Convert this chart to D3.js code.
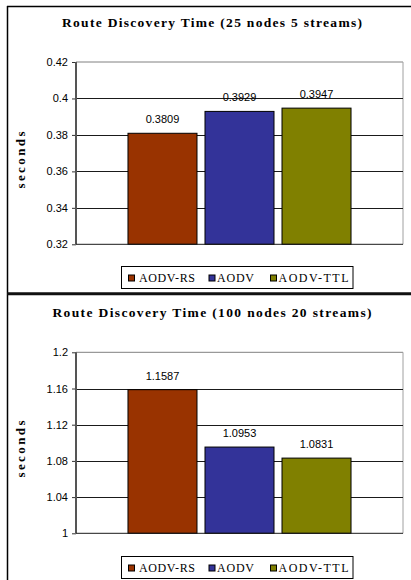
<!DOCTYPE html>
<html>
<head>
<meta charset="utf-8">
<script src="https://cdn.jsdelivr.net/npm/d3@7"></script>
<style>
  html, body { margin: 0; padding: 0; background: #fff; }
  svg { display: block; }
</style>
</head>
<body>
<script>
// ---- data ----
const seriesNames = ["AODV-RS", "AODV", "AODV-TTL"];
const values25 = [0.3809, 0.3929, 0.3947];
const values100 = [1.1587, 1.0953, 1.0831];
const ticks25 = [0.32, 0.34, 0.36, 0.38, 0.40, 0.42];
const ticks100 = [1.00, 1.04, 1.08, 1.12, 1.16, 1.20];
const title25 = "Route Discovery Time (25 nodes 5 streams)";
const title100 = "Route Discovery Time (100 nodes 20 streams)";
const yLabel = "seconds";

// ---- styles ----
const colors = ["#993300", "#333399", "#808000"];
const W = 411, H = 580;

const svg = d3.select("body").append("svg")
  .attr("width", W).attr("height", H);

// outer frame lines
svg.append("line").attr("x1", 7).attr("x2", W).attr("y1", 6.5).attr("y2", 6.5)
  .attr("stroke", "#000").attr("stroke-width", 1.5);
svg.append("line").attr("x1", 7.5).attr("x2", 7.5).attr("y1", 6).attr("y2", H)
  .attr("stroke", "#000").attr("stroke-width", 1.5);
svg.append("line").attr("x1", 7).attr("x2", W).attr("y1", 293.7).attr("y2", 293.7)
  .attr("stroke", "#111").attr("stroke-width", 3);

const colorScale = d3.scaleOrdinal().domain(seriesNames).range(colors);

function drawChart(cfg) {
  const g = svg.append("g");
  const x0 = 76, x1 = 403;
  const y = d3.scaleLinear()
    .domain([cfg.ticks[0], cfg.ticks[cfg.ticks.length - 1]])
    .range([cfg.yBottom, cfg.yTop]);
  const x = d3.scaleBand().domain(seriesNames).range([x0, x1])
    .paddingInner(0.104).paddingOuter(0.675);

  // title
  g.append("text")
    .attr("x", 212).attr("y", cfg.titleY)
    .attr("text-anchor", "middle")
    .attr("font-family", "'Liberation Serif', 'Times New Roman', serif")
    .attr("font-weight", "bold").attr("font-size", 13.5)
    .attr("textLength", cfg.titleLen).attr("lengthAdjust", "spacing")
    .text(cfg.title);

  // plot border (top/right gray)
  g.append("line").attr("x1", x0).attr("x2", x1).attr("y1", cfg.yTop).attr("y2", cfg.yTop)
    .attr("stroke", "#808080").attr("stroke-width", 1);
  g.append("line").attr("x1", x1).attr("x2", x1).attr("y1", cfg.yTop).attr("y2", cfg.yBottom)
    .attr("stroke", "#a0a0a0").attr("stroke-width", 1);

  // gridlines
  g.selectAll(".grid").data(cfg.ticks.slice(1, -1)).join("line")
    .attr("x1", x0).attr("x2", x1)
    .attr("y1", d => Math.round(y(d)) + 0.5).attr("y2", d => Math.round(y(d)) + 0.5)
    .attr("stroke", "#1a1a1a").attr("stroke-width", 1);

  // y axis
  const axis = d3.axisLeft(y).tickValues(cfg.ticks).tickSize(4).tickPadding(4)
    .tickFormat(d => String(+d.toFixed(2)));
  const ag = g.append("g").attr("transform", `translate(${x0},0)`).call(axis);
  ag.select(".domain").remove();
  ag.selectAll(".tick line").attr("stroke", "#333");
  ag.selectAll(".tick text")
    .attr("font-family", "'Liberation Sans', Arial, sans-serif")
    .attr("font-size", 11).attr("fill", "#000");
  g.append("line").attr("x1", x0).attr("x2", x0).attr("y1", cfg.yTop).attr("y2", cfg.yBottom)
    .attr("stroke", "#555").attr("stroke-width", 2);

  // bars
  g.selectAll(".bar").data(cfg.values).join("rect")
    .attr("x", (d, i) => x(seriesNames[i]))
    .attr("width", x.bandwidth())
    .attr("y", d => y(d))
    .attr("height", d => y(cfg.ticks[0]) - y(d))
    .attr("fill", (d, i) => colorScale(seriesNames[i]))
    .attr("stroke", "#000").attr("stroke-width", 1);

  // x axis line
  g.append("line").attr("x1", x0).attr("x2", x1)
    .attr("y1", cfg.yBottom).attr("y2", cfg.yBottom)
    .attr("stroke", "#1a1a1a").attr("stroke-width", 1);

  // data labels
  g.selectAll(".lbl").data(cfg.values).join("text")
    .attr("x", (d, i) => x(seriesNames[i]) + x.bandwidth() / 2)
    .attr("y", d => y(d) - 10)
    .attr("text-anchor", "middle")
    .attr("font-family", "'Liberation Sans', Arial, sans-serif")
    .attr("font-size", 11).attr("fill", "#000")
    .text(d => d.toFixed(4));

  // y label
  g.append("text")
    .attr("transform", `translate(25,${cfg.labelY}) rotate(-90)`)
    .attr("text-anchor", "middle")
    .attr("font-family", "'Liberation Serif', 'Times New Roman', serif")
    .attr("font-weight", "bold").attr("font-size", 13)
    .attr("textLength", 57).attr("lengthAdjust", "spacing")
    .text(yLabel);

  // legend
  const lg = g.append("g").attr("transform", `translate(0,${cfg.legendY})`);
  lg.append("rect").attr("x", 121.5).attr("y", 0.5).attr("width", 231.5).attr("height", 22)
    .attr("fill", "#fff").attr("stroke", "#000").attr("stroke-width", 1);
  const items = [
    { mx: 128, tx: 139, tl: 56 },
    { mx: 208.5, tx: 217, tl: 37 },
    { mx: 270, tx: 278.5, tl: 70 }
  ];
  seriesNames.forEach((s, i) => {
    lg.append("rect").attr("x", items[i].mx + 0.5).attr("y", 9).attr("width", 6).attr("height", 6)
      .attr("fill", colorScale(s)).attr("stroke", "#000").attr("stroke-width", 1);
    lg.append("text").attr("x", items[i].tx).attr("y", 15.7)
      .attr("font-family", "'Liberation Serif', 'Times New Roman', serif")
      .attr("font-size", 12)
      .attr("textLength", items[i].tl).attr("lengthAdjust", "spacing")
      .text(s);
  });
}

drawChart({ title: title25, titleY: 27, titleLen: 300, values: values25, ticks: ticks25,
  yTop: 62, yBottom: 244.3, labelY: 160, legendY: 266 });
drawChart({ title: title100, titleY: 317, titleLen: 319, values: values100, ticks: ticks100,
  yTop: 352.3, yBottom: 533.3, labelY: 449, legendY: 556 });
</script>
</body>
</html>
